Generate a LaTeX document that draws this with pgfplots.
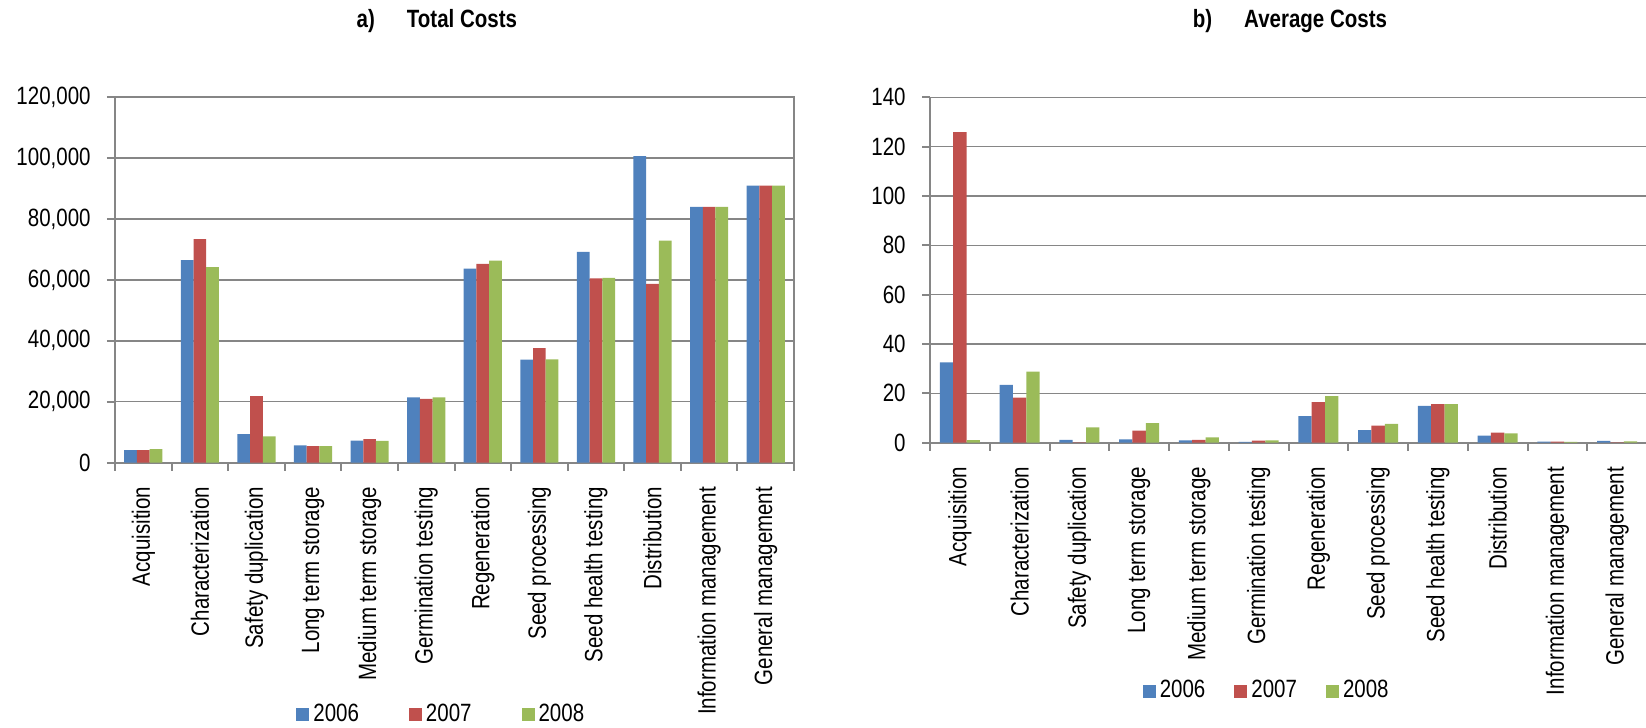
\documentclass[border=0pt]{standalone}
\usepackage{fontspec}
\setmainfont{Liberation Sans}[FakeStretch=0.82]
\usepackage{pgfplots}
\usepackage{pgfplotstable}
\pgfplotsset{compat=1.18}

\definecolor{s06}{HTML}{4F81BD}
\definecolor{s07}{HTML}{C0504D}
\definecolor{s08}{HTML}{9BBB59}
\definecolor{axgrey}{HTML}{868686}

% Total costs per activity (US$)
\pgfplotstableread{
idx a b c
0 4100 4100 4400
1 66500 73400 64200
2 9300 21800 8600
3 5600 5400 5400
4 7200 7700 7100
5 21400 20900 21400
6 63700 65300 66300
7 33800 37600 33900
8 69200 60500 60700
9 100700 58700 72900
10 84000 84000 84000
11 91000 91000 91000
}\totalcosts

% Average costs per accession (US$)
\pgfplotstableread{
idx a b c
0 32.6 125.9 1.0
1 23.4 18.3 28.8
2 1.1 0.1 6.2
3 1.4 4.9 7.9
4 0.9 1.1 2.2
5 0.3 0.8 0.9
6 10.8 16.4 18.9
7 5.1 6.9 7.6
8 14.9 15.6 15.6
9 2.9 4.1 3.8
10 0.4 0.4 0.3
11 0.7 0.1 0.5
}\averagecosts

\pgfplotsset{
  costbars/.style={
    scale only axis,
    ybar=0pt,
    xmin=-0.5, xmax=11.5,
    ymin=0,
    xtick={0,...,11},
    xticklabels={Acquisition,Characterization,Safety duplication,Long term storage,Medium term storage,Germination testing,Regeneration,Seed processing,Seed health testing,Distribution,Information management,General management},
    minor xtick={-0.5,0.5,...,11.5},
    tick pos=left,
    tick align=outside,
    major tick length=4pt,
    minor tick length=4pt,
    tick style={axgrey, line width=1pt},
    major x tick style={draw=none},
    ymajorgrids,
    grid style={axgrey, line width=0.75pt},
    axis line style={axgrey, line width=1pt},
    xticklabel style={rotate=90, anchor=east, inner sep=0pt, xshift=-8pt},
    yticklabel style={anchor=east, inner sep=0pt, xshift=-8pt,
      /pgf/number format/fixed,
      /pgf/number format/precision=0,
      /pgf/number format/1000 sep={,},
      /pgf/number format/assume math mode=true},
    scaled y ticks=false,
    legend columns=3,
    legend image code/.code={\fill (0pt,-3.25pt) rectangle (6.5pt,3.25pt);},
    legend style={draw=none, fill=none, anchor=center, inner sep=0pt,
      nodes={inner ysep=1pt, inner xsep=2pt}},
  },
}

\begin{document}
\fontsize{12.5}{15}\selectfont
\begin{tikzpicture}
\path[use as bounding box] (0,0) rectangle (823pt,-364pt);

% a) Total costs
\begin{axis}[costbars,
  at={(57.5pt,-231.25pt)}, anchor=south west,
  width=339.5pt, height=182.6pt,
  bar width=6.35pt,
  ymax=120000, ytick={0,20000,...,120000},
  title={a)\hspace{16pt}Total Costs},
  every axis title/.style={at={(0.474,1.209)}, anchor=center, font=\bfseries},
  legend style={at={(0.482,-0.691)},
    /tikz/every even column/.append style={column sep=23pt}},
]
\addplot[fill=s06, draw=none] table[x=idx, y=a] {\totalcosts};
\addplot[fill=s07, draw=none] table[x=idx, y=b] {\totalcosts};
\addplot[fill=s08, draw=none] table[x=idx, y=c] {\totalcosts};
\legend{2006,2007,2008}
\end{axis}

% b) Average costs
\begin{axis}[costbars,
  at={(465pt,-221.35pt)}, anchor=south west,
  width=358.5pt, height=172.7pt,
  axis lines*=left,
  bar width=6.67pt,
  ymax=140, ytick={0,20,...,140},
  title={b)\hspace{16pt}Average Costs},
  every axis title/.style={at={(0.502,1.221)}, anchor=center, font=\bfseries},
  legend style={at={(0.471,-0.719)},
    /tikz/every even column/.append style={column sep=12.5pt}},
]
\addplot[fill=s06, draw=none] table[x=idx, y=a] {\averagecosts};
\addplot[fill=s07, draw=none] table[x=idx, y=b] {\averagecosts};
\addplot[fill=s08, draw=none] table[x=idx, y=c] {\averagecosts};
\legend{2006,2007,2008}
\end{axis}
\end{tikzpicture}
\end{document}
